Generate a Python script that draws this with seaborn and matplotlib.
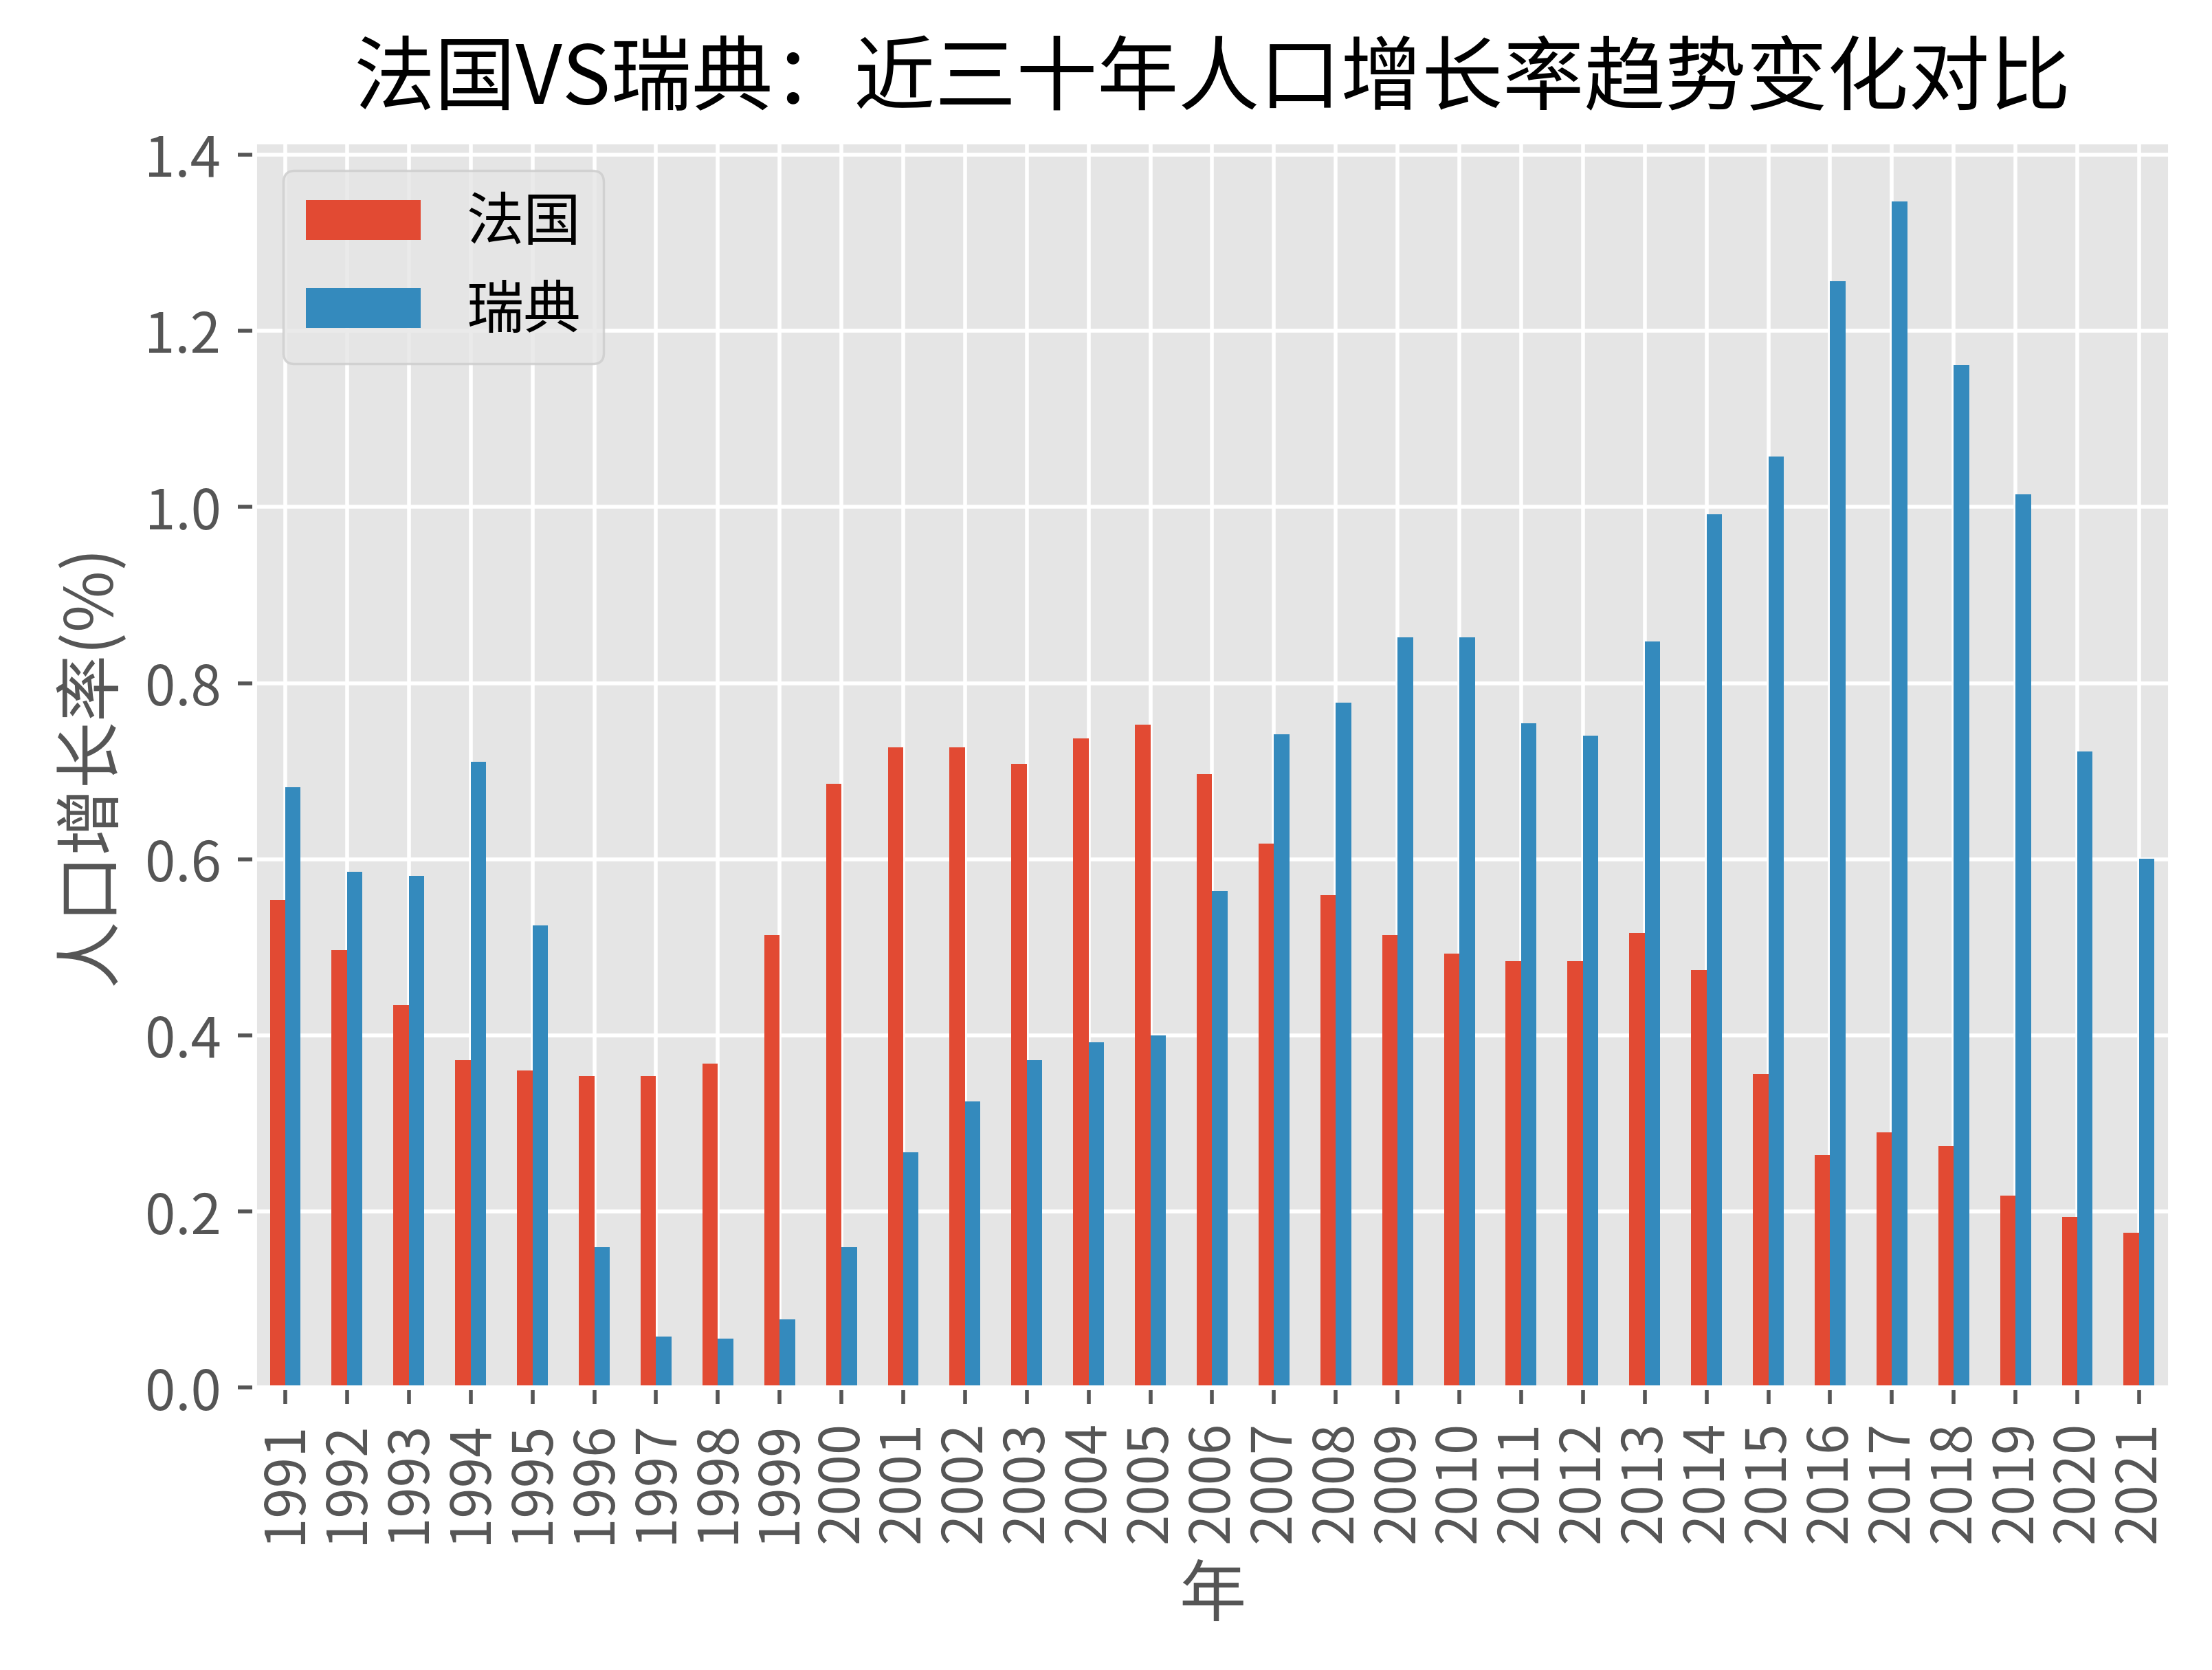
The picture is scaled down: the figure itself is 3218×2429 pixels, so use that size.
import pandas as pd
import matplotlib
matplotlib.use("Agg")
import matplotlib.pyplot as plt
import seaborn as sns

# Data
years = list(range(1991, 2022))
france = [0.554, 0.497, 0.434, 0.372, 0.360, 0.354, 0.354, 0.368, 0.514, 0.686,
          0.727, 0.727, 0.708, 0.737, 0.753, 0.697, 0.618, 0.559, 0.514, 0.493,
          0.484, 0.484, 0.516, 0.474, 0.356, 0.264, 0.290, 0.274, 0.218, 0.194,
          0.176]
sweden = [0.682, 0.586, 0.581, 0.711, 0.525, 0.160, 0.058, 0.056, 0.078, 0.160,
          0.267, 0.325, 0.372, 0.392, 0.400, 0.564, 0.742, 0.778, 0.852, 0.852,
          0.754, 0.740, 0.847, 0.992, 1.057, 1.256, 1.347, 1.161, 1.014, 0.722,
          0.601]
countries = ['法国', '瑞典']

df = pd.DataFrame({'年': years, '法国': france, '瑞典': sweden})
long_df = df.melt(id_vars='年', value_vars=countries, var_name='国家', value_name='增长率')

plt.style.use('ggplot')
plt.rcParams['font.family'] = ['Noto Sans CJK SC', 'DejaVu Sans']
plt.rcParams['axes.unicode_minus'] = False

fig, ax = plt.subplots(figsize=(6.436, 4.858), dpi=500)
sns.barplot(data=long_df, x='年', y='增长率', hue='国家', hue_order=countries,
            palette=['#E24A33', '#348ABD'], width=0.5, gap=0, saturation=1,
            ax=ax)

ax.set_title('法国VS瑞典：近三十年人口增长率趋势变化对比', fontsize=17, pad=8)
ax.set_xlabel('年', fontsize=14)
ax.set_ylabel('人口增长率(%)', fontsize=14)
ax.tick_params(axis='x', rotation=90, labelsize=11.5)
ax.tick_params(axis='y', labelsize=11.5)
ax.set_xlim(-0.5, len(years) - 0.5)
ax.grid(True, axis='both')
sns.move_legend(ax, 'upper left', title=None, fontsize=12)

plt.subplots_adjust(left=0.115, right=0.981, top=0.915, bottom=0.169)
plt.savefig('out.png', dpi=500)
